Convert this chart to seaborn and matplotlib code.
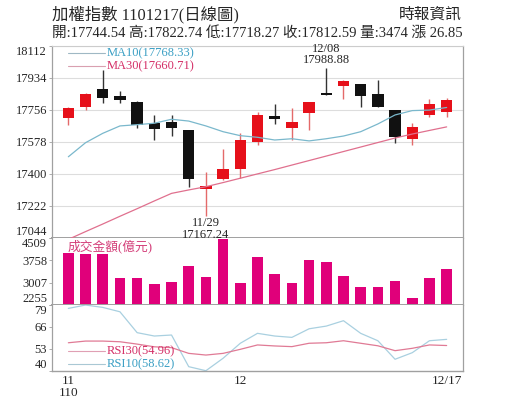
import numpy as np
import pandas as pd
import matplotlib
matplotlib.use("Agg")
import matplotlib.pyplot as plt
import seaborn as sns

# ---------------- data ----------------
dates = ["11/17", "11/18", "11/19", "11/22", "11/23", "11/24", "11/25", "11/26",
         "11/29", "11/30", "12/01", "12/02", "12/03", "12/06", "12/07", "12/08",
         "12/09", "12/10", "12/13", "12/14", "12/15", "12/16", "12/17"]
opens = [17708, 17773, 17869, 17832, 17800, 17684, 17688, 17644, 17318, 17370, 17429, 17579,
         17721, 17653, 17740, 17847, 17888, 17897, 17843, 17754, 17595, 17725, 17744.54]
highs = [17770, 17848, 17975, 17859, 17803, 17727, 17727, 17646, 17412, 17537, 17625, 17745,
         17786, 17764, 17800, 17988.88, 17920, 17900, 17921, 17756, 17681, 17814, 17822.74]
lows = [17671, 17756, 17792, 17792, 17656, 17588, 17610, 17329, 17167.24, 17368, 17376, 17560,
        17675, 17588, 17644, 17835, 17814, 17773, 17770, 17570, 17560, 17714, 17718.27]
closes = [17767, 17843, 17823, 17810, 17670, 17647, 17656, 17370, 17333, 17427, 17588, 17727,
          17703, 17690, 17797, 17838, 17917, 17832, 17773, 17603, 17662, 17788, 17812.59]
ma10 = [17495, 17573, 17625, 17666, 17673, 17681, 17703, 17693, 17666, 17634, 17612, 17603,
        17588, 17595, 17583, 17595, 17610, 17634, 17677, 17727, 17751, 17754, 17768.33]
ma30 = [17037, 17080, 17122, 17165, 17207, 17250, 17292, 17311, 17329, 17352, 17376, 17400,
        17424, 17449, 17474, 17499, 17524, 17549, 17574, 17599, 17621, 17641, 17660.71]
volume = [4002, 3979, 3979, 3177, 3157, 2955, 3043, 3573, 3201, 4486, 3009, 3888,
          3303, 2988, 3786, 3698, 3245, 2874, 2874, 3066, 2502, 3157, 3474]
rsi10 = [77.0, 79.0, 77.6, 75.0, 62.6, 60.6, 61.2, 42.4, 40.0, 47.4, 56.3, 62.2,
         60.6, 59.8, 64.9, 66.5, 69.7, 62.2, 57.8, 46.8, 50.7, 57.8, 58.62]
rsi30 = [56.6, 57.6, 57.6, 57.2, 55.8, 54.2, 53.7, 50.3, 49.3, 50.3, 52.7, 55.3,
         54.7, 54.3, 56.3, 56.6, 57.8, 56.3, 54.8, 51.9, 53.3, 55.3, 54.96]

price_ticks = [17044, 17222, 17400, 17578, 17756, 17934, 18112]
vol_ticks = [2255, 3007, 3758, 4509]
rsi_ticks = [40, 53, 66, 79]
x_tick_idx = [0, 10, 22]
x_tick_labels = ["11\n110", "12", "12/17"]

title = "加權指數 1101217(日線圖)"
source = "時報資訊"
info = "開:17744.54 高:17822.74 低:17718.27 收:17812.59 量:3474 漲 26.85"

df = pd.DataFrame({"date": dates, "open": opens, "high": highs, "low": lows,
                   "close": closes, "ma10": ma10, "ma30": ma30, "vol": volume,
                   "rsi10": rsi10, "rsi30": rsi30})
df["i"] = np.arange(len(df))

# ---------------- style ----------------
sns.set_style("white")
FAM = ["Liberation Serif", "Noto Sans CJK TC"]
plt.rcParams["font.family"] = FAM

RED = "#e6101a"
RED_WICK = "#e46a6a"
BLACK = "#111111"
MA10_C = "#7ab8cc"
MA10_T = "#3a9fc4"
MA30_C = "#e0708e"
MA30_T = "#d42e66"
VOL_C = "#e0007a"
RSI10_C = "#a9d0e0"
RSI30_C = "#e07a95"
GRID = "#dddddd"
SPINE = "#a0a0a0"

fig = plt.figure(figsize=(5.15, 4.13), dpi=100)
L, W = 0.101, 0.798
ax1 = fig.add_axes([L, 0.4235, W, 0.4663])
ax2 = fig.add_axes([L, 0.2615, W, 0.1620])
ax3 = fig.add_axes([L, 0.1024, W, 0.1590])
XL = (-0.95, 22.95)

# ---------------- candles ----------------
up = df["close"] >= df["open"]
body_col = np.where(up, RED, BLACK)
wick_col = np.where(up, RED_WICK, "#333333")
ax1.vlines(df["i"], df["low"], df["high"], colors=wick_col, lw=1.0, zorder=2)
bottoms = np.minimum(df["open"], df["close"])
heights = np.maximum(np.abs(df["close"] - df["open"]), 8)
ax1.bar(df["i"], heights, bottom=bottoms, width=0.66, color=body_col, lw=0, zorder=3)

sns.lineplot(data=df, x="i", y="ma10", ax=ax1, color=MA10_C, lw=0.9, legend=False, zorder=4)
sns.lineplot(data=df, x="i", y="ma30", ax=ax1, color=MA30_C, lw=0.9, legend=False, zorder=4)

ax1.set_xlim(*XL)
ax1.set_ylim(price_ticks[0], price_ticks[-1])
ax1.set_yticks(price_ticks)
ax1.set_yticklabels([str(t) for t in price_ticks])
ax1.yaxis.grid(True, color=GRID, lw=0.8)
ax1.set_axisbelow(True)
ax1.set_xticks([])
ax1.set_xlabel("")
ax1.set_ylabel("")

# legend for MA lines
ax1.plot([0.039, 0.129], [0.9595, 0.9595], transform=ax1.transAxes, color="#9fb8c4", lw=0.8)
ax1.plot([0.039, 0.129], [0.8936, 0.8936], transform=ax1.transAxes, color="#d9a0b0", lw=0.8)
ax1.text(0.133, 0.9595, "MA10(17768.33)", transform=ax1.transAxes, color=MA10_T,
         fontsize=9, va="center", ha="left")
ax1.text(0.133, 0.8936, "MA30(17660.71)", transform=ax1.transAxes, color=MA30_T,
         fontsize=9, va="center", ha="left")

# high / low annotations
lo_i = int(np.argmin(df["low"]))
hi_i = int(np.argmax(df["high"]))
ax1.annotate(f"{dates[lo_i]}\n{lows[lo_i]:.2f}", xy=(lo_i, lows[lo_i]), xytext=(0, -1),
             textcoords="offset points", ha="center", va="top", fontsize=9,
             linespacing=0.95, annotation_clip=False, zorder=10)
ax1.annotate("12/08\n" + f"{highs[hi_i]:.2f}", xy=(hi_i, highs[hi_i]), xytext=(0, 1),
             textcoords="offset points", ha="center", va="bottom", fontsize=9,
             linespacing=0.95, annotation_clip=False, zorder=10)

# ---------------- volume ----------------
sns.barplot(x=df["i"], y=df["vol"], native_scale=True, ax=ax2, color=VOL_C,
            saturation=1, width=0.62, linewidth=0)
ax2.set_xlim(*XL)
ax2.set_ylim(vol_ticks[0], vol_ticks[-1])
ax2.set_yticks(vol_ticks)
ax2.set_yticklabels([str(t) for t in vol_ticks])
ax2.set_xticks([])
ax2.set_xlabel("")
ax2.set_ylabel("")
ax2.text(0.039, 0.88, "成交金額(億元)", transform=ax2.transAxes, color="#d4407a",
         fontsize=9.2, va="center", ha="left")

# ---------------- RSI ----------------
sns.lineplot(data=df, x="i", y="rsi10", ax=ax3, color=RSI10_C, lw=0.9, legend=False)
sns.lineplot(data=df, x="i", y="rsi30", ax=ax3, color=RSI30_C, lw=0.9, legend=False)
ax3.set_xlim(*XL)
ax3.set_ylim(rsi_ticks[0], rsi_ticks[-1])
ax3.set_yticks(rsi_ticks)
ax3.set_yticklabels([str(t) for t in rsi_ticks])
ax3.set_xlabel("")
ax3.set_ylabel("")
ax3.plot([0.039, 0.129], [0.30, 0.30], transform=ax3.transAxes, color="#e0a0b4", lw=0.8)
ax3.plot([0.039, 0.129], [0.097, 0.097], transform=ax3.transAxes, color="#a9c8d4", lw=0.8)
ax3.text(0.133, 0.30, "RSI30(54.96)", transform=ax3.transAxes, color=MA30_T,
         fontsize=9, va="center", ha="left")
ax3.text(0.133, 0.097, "RSI10(58.62)", transform=ax3.transAxes, color=MA10_T,
         fontsize=9, va="center", ha="left")
ax3.set_xticks(x_tick_idx)
ax3.set_xticklabels(x_tick_labels)
ax3.set_xticks(df["i"], minor=True)
ax3.tick_params(axis="x", which="both", direction="in", length=3, color=SPINE,
                pad=3, labelsize=9.5)
for lab in ax3.get_xticklabels():
    lab.set_linespacing(1.0)
    lab.set_va("top")

# ---------------- axes cosmetics ----------------
for ax in (ax1, ax2, ax3):
    ax.tick_params(axis="y", which="both", left=True, length=2, width=0.6, color=SPINE,
                   pad=1.5, labelsize=9)
    for s in ("left", "right"):
        ax.spines[s].set_color(SPINE)
        ax.spines[s].set_linewidth(0.9)
    ax.spines["bottom"].set_color(SPINE)
    ax.spines["bottom"].set_linewidth(1.4)
    ax.spines["top"].set_visible(False)
    labs = ax.get_yticklabels()
    labs[0].set_va("bottom")
    labs[-1].set_va("top")
ax1.spines["top"].set_visible(True)
ax1.spines["top"].set_color("#cccccc")
ax1.spines["top"].set_linewidth(0.8)
ax3.spines["bottom"].set_linewidth(1.0)

# ---------------- header ----------------
fig.text(52 / 515, 1 - 14.5 / 413, title, fontsize=11.8, ha="left", va="center")
fig.text(462 / 515, 1 - 14.5 / 413, source, fontsize=11.3, ha="right", va="center")
fig.text(52 / 515, 1 - 33 / 413, info, fontsize=10.5, ha="left", va="center")

fig.savefig("out.png", dpi=100)
